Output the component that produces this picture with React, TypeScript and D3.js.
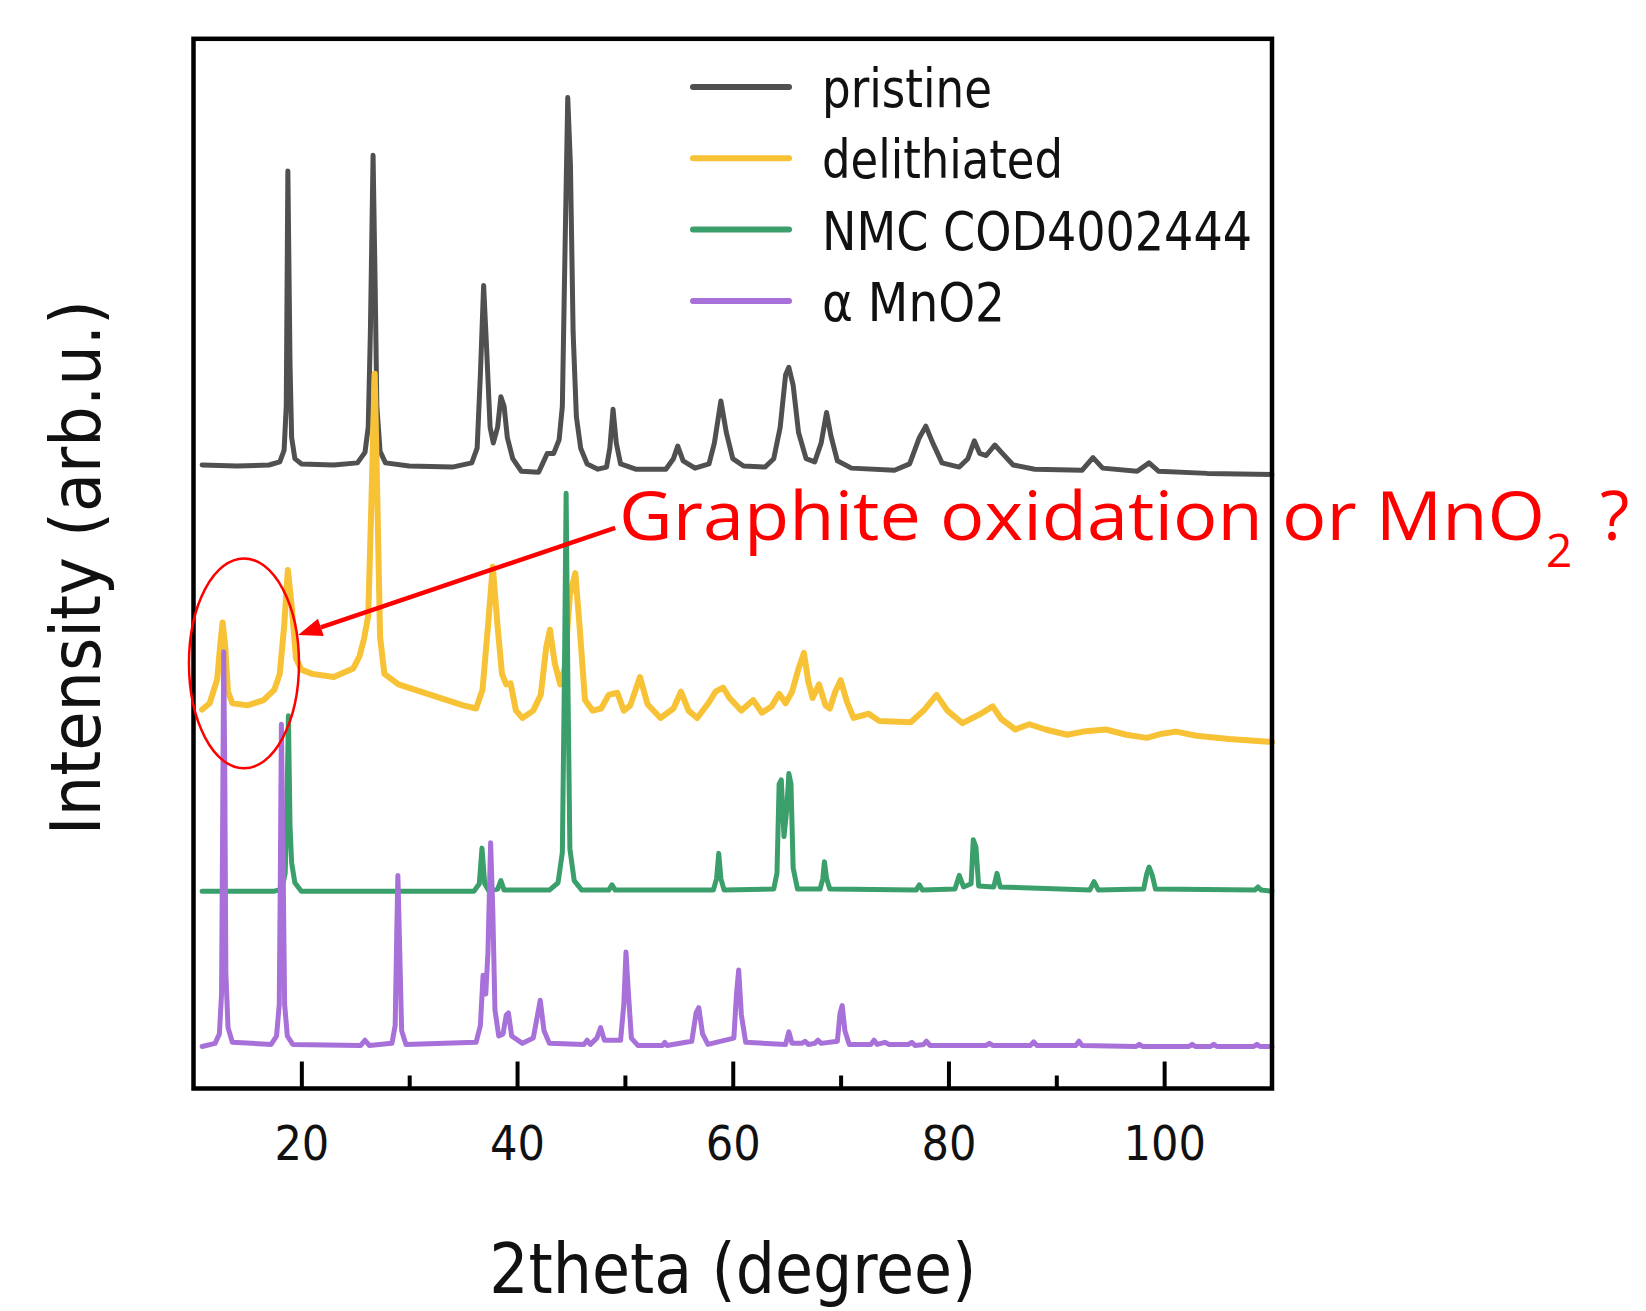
import React, { useEffect, useRef } from 'react'
import * as d3 from 'd3'

// [2theta, intensity] pairs, intensity in arb. units with the stacking offsets included
const pristine = [
  [10.8, 594], [14, 593], [17, 594], [18.0, 597], [18.4, 608], [18.6, 650], [18.75, 874], [18.95, 690], [19.1, 620],
  [19.4, 600], [20, 595], [23, 594], [25.2, 596], [25.9, 606], [26.2, 630], [26.4, 720], [26.65, 889], [26.85, 760],
  [27.0, 650], [27.3, 607], [27.8, 596], [30, 593], [34, 592], [35.8, 596], [36.3, 610], [36.6, 680], [36.9, 765],
  [37.2, 700], [37.5, 630], [37.8, 615], [38.2, 630], [38.5, 659], [38.8, 650], [39.1, 620], [39.6, 600], [40.4, 588],
  [42.0, 587], [42.4, 596], [42.8, 605], [43.4, 605], [43.9, 618], [44.2, 650], [44.45, 800], [44.7, 944], [44.95, 880],
  [45.2, 720], [45.5, 640], [45.9, 610], [46.5, 595], [47.5, 590], [48.3, 592], [48.6, 610], [48.9, 647], [49.2, 615],
  [49.6, 595], [51, 590], [53.8, 590], [54.5, 600], [54.9, 612], [55.4, 598], [56.5, 591], [57.8, 595], [58.3, 615],
  [58.9, 655], [59.4, 625], [60, 600], [61, 593], [63, 592], [63.8, 600], [64.4, 630], [64.9, 680], [65.2, 687],
  [65.6, 670], [66.1, 625], [66.8, 600], [67.6, 597], [68.2, 615], [68.7, 644], [69.1, 622], [69.7, 598], [71, 591],
  [75, 589], [76.4, 595], [77.3, 620], [77.9, 631], [78.5, 616], [79.4, 596], [81, 592], [81.8, 600], [82.4, 617],
  [82.9, 605], [83.5, 603], [84.3, 613], [85.0, 605], [86, 594], [88, 590], [92.4, 589], [93.4, 601], [94.3, 591],
  [97.5, 588], [98.6, 596], [99.5, 588], [104, 586], [110, 585],
]

const delithiated = [
  [10.8, 361], [11.5, 367], [12.2, 390], [12.5, 425], [12.7, 444], [12.95, 420], [13.2, 378], [13.6, 367], [15, 365],
  [16.5, 370], [17.5, 380], [18.0, 395], [18.4, 440], [18.75, 494], [19.1, 460], [19.5, 410], [20.0, 399], [21, 395],
  [23, 392], [24.8, 400], [25.4, 412], [25.8, 428], [26.2, 450], [26.5, 560], [26.8, 681], [27.05, 560], [27.3, 430],
  [27.7, 395], [29, 385], [32, 375], [35, 365], [36.2, 362], [36.8, 380], [37.3, 440], [37.75, 497], [38.2, 440],
  [38.6, 395], [39.0, 385], [39.4, 386], [39.9, 360], [40.5, 353], [41.5, 360], [42.2, 375], [42.7, 420], [43.05, 437],
  [43.5, 405], [44.0, 385], [44.4, 400], [44.9, 470], [45.4, 491], [45.8, 440], [46.3, 370], [47.0, 360], [47.8, 362],
  [48.5, 375], [49.3, 377], [49.9, 360], [50.5, 365], [51.4, 392], [52.1, 366], [53.3, 353], [54.5, 362], [55.2, 378],
  [55.9, 360], [56.7, 353], [57.8, 368], [58.4, 378], [59.1, 382], [59.7, 372], [60.8, 360], [61.9, 370], [62.7, 358],
  [63.6, 364], [64.3, 376], [64.9, 367], [65.5, 378], [66.1, 400], [66.6, 415], [67.0, 388], [67.4, 372], [68.0, 385],
  [68.6, 365], [69.0, 362], [69.5, 378], [70.0, 389], [70.6, 368], [71.2, 353], [72.6, 357], [73.6, 350], [76.5, 349],
  [77.7, 360], [78.9, 375], [79.9, 360], [81.3, 348], [83.0, 357], [84.1, 364], [84.9, 352], [86.2, 342], [87.5, 347],
  [89, 342], [91.0, 337], [92.5, 340], [94.6, 342], [96.5, 337], [98.4, 334], [99.8, 338], [101.1, 340], [103, 336],
  [106, 333], [110, 330],
]

const nmc = [
  [10.8, 188], [17.5, 188], [18.2, 190], [18.5, 205], [18.65, 260], [18.8, 355], [18.95, 250], [19.1, 215], [19.4, 196],
  [20, 188], [36.0, 188], [36.5, 195], [36.75, 229], [37.0, 195], [37.4, 188], [38.2, 190], [38.5, 198], [38.8, 189],
  [43.0, 189], [43.8, 196], [44.2, 225], [44.4, 400], [44.55, 567], [44.7, 400], [44.9, 228], [45.3, 198], [46.0, 189],
  [48.5, 189], [48.8, 194], [49.1, 189], [58.2, 189], [58.5, 200], [58.7, 224], [58.9, 200], [59.2, 189], [63.8, 190],
  [64.1, 205], [64.3, 290], [64.5, 294], [64.75, 240], [65.0, 265], [65.2, 300], [65.4, 290], [65.6, 210], [66.0, 190],
  [68.1, 190], [68.35, 200], [68.5, 216], [68.7, 200], [69.0, 190], [77.0, 189], [77.3, 194], [77.6, 189], [80.6, 190],
  [81.0, 203], [81.4, 192], [82.1, 195], [82.3, 237], [82.55, 230], [82.8, 193], [84.2, 192], [84.5, 205], [84.8, 192],
  [93.1, 189], [93.5, 197], [93.9, 189], [98.1, 190], [98.4, 205], [98.6, 211], [98.9, 203], [99.2, 190], [108.4, 189],
  [108.7, 192], [109.0, 189], [110, 188],
]

const mno2 = [
  [10.8, 40], [12.0, 43], [12.4, 52], [12.6, 90], [12.7, 250], [12.8, 416], [12.9, 300], [13.0, 110], [13.2, 58],
  [13.6, 44], [17.2, 42], [17.7, 50], [17.95, 80], [18.05, 200], [18.15, 347], [18.3, 220], [18.45, 80], [18.7, 50],
  [19.2, 42], [25.5, 41], [25.9, 46], [26.3, 41], [28.4, 43], [28.7, 60], [28.85, 150], [28.95, 203], [29.1, 140],
  [29.3, 55], [29.7, 42], [36.2, 44], [36.6, 60], [36.85, 108], [37.1, 90], [37.3, 130], [37.55, 234], [37.75, 170],
  [37.95, 75], [38.3, 50], [38.7, 52], [39.0, 70], [39.2, 72], [39.5, 50], [40.5, 43], [41.5, 48], [41.9, 70],
  [42.15, 84], [42.5, 55], [43, 43], [46.2, 42], [46.5, 46], [46.8, 42], [47.4, 48], [47.75, 58], [48.1, 46], [49.6, 46],
  [49.9, 80], [50.1, 130], [50.3, 95], [50.6, 48], [51.2, 41], [53.5, 41], [53.7, 44], [53.9, 41], [56.2, 45],
  [56.6, 72], [56.85, 77], [57.2, 52], [57.7, 42], [60.1, 48], [60.35, 90], [60.55, 113], [60.8, 70], [61.2, 44],
  [64.9, 42], [65.2, 54], [65.5, 43], [66.4, 43], [66.7, 45], [67.0, 42], [67.6, 43], [67.9, 46], [68.2, 43], [69.7, 45],
  [69.95, 72], [70.15, 79], [70.4, 55], [70.8, 42], [72.8, 42], [73.1, 46], [73.4, 42], [74.1, 44], [74.5, 42],
  [76.3, 42], [76.6, 44], [76.9, 41], [77.7, 42], [77.95, 45], [78.3, 41], [83.5, 41], [83.8, 43], [84.1, 41],
  [87.6, 41], [87.9, 44.5], [88.2, 41], [91.8, 41], [92.1, 45], [92.4, 41], [97.4, 40], [97.7, 42], [98.0, 40],
  [102.3, 40], [102.6, 42], [102.9, 40], [104.3, 40], [104.6, 42], [104.9, 40], [108.3, 40], [108.6, 42], [108.9, 40],
  [110, 40],
]

const seriesNames = ['pristine', 'delithiated', 'NMC COD4002444', 'α MnO2']
const seriesColors = ['#505050', '#f7c235', '#3a9f6b', '#a771d9']
const legendWidths = [170, 241, 430, 183]
const majorTicks = [20, 40, 60, 80, 100]
const minorTicks = [30, 50, 70, 90]

const axisFont = '"DejaVu Sans Condensed", "DejaVu Sans", sans-serif'
const noteFont = '"Open Sans", "Noto Sans", sans-serif'

export default function App() {
  const ref = useRef(null)

  useEffect(() => {
    const svg = d3.select(ref.current)
    svg.selectAll('*').remove()

    var x = d3.scaleLinear().domain([10, 110]).range([193.5, 1272])
    var y = d3.scaleLinear().domain([0, 1000]).range([1088.5, 38.8])

    svg.append('rect').attr('width', 1646).attr('height', 1311).attr('fill', '#fff')

    // curves, pristine drawn first and MnO2 last (on top)
    const line = d3.line().x(d => x(d[0])).y(d => y(d[1]))
    ;[pristine, delithiated, nmc, mno2].forEach((data, i) => {
      svg.append('path')
        .attr('d', line(data))
        .attr('fill', 'none')
        .attr('stroke', seriesColors[i])
        .attr('stroke-width', i == 1 ? 6 : 5)
        .attr('stroke-linejoin', 'round')
        .attr('stroke-linecap', 'round')
    })

    // frame
    svg.append('rect')
      .attr('x', x(10)).attr('y', y(1000))
      .attr('width', x(110) - x(10)).attr('height', y(0) - y(1000))
      .attr('fill', 'none').attr('stroke', '#000').attr('stroke-width', 4.5)

    // bottom axis, inward ticks
    const xAxis = d3.axisBottom(x).tickValues(majorTicks).tickSizeInner(-27).tickSizeOuter(0)
      .tickPadding(37).tickFormat(d3.format('d'))
    const gx = svg.append('g').attr('transform', `translate(0,${y(0)})`).call(xAxis)
    gx.select('.domain').remove()
    gx.selectAll('line').attr('stroke', '#000').attr('stroke-width', 4)
    gx.selectAll('text').attr('font-size', 48).attr('font-family', axisFont).attr('fill', '#111')

    const xMinor = d3.axisBottom(x).tickValues(minorTicks).tickSizeInner(-13).tickSizeOuter(0).tickFormat(() => '')
    const gm = svg.append('g').attr('transform', `translate(0,${y(0)})`).call(xMinor)
    gm.select('.domain').remove()
    gm.selectAll('line').attr('stroke', '#000').attr('stroke-width', 4)

    // axis titles
    svg.append('text')
      .attr('x', (x(10) + x(110)) / 2).attr('y', 1293)
      .attr('text-anchor', 'middle').attr('font-family', axisFont).attr('font-size', 70)
      .attr('textLength', 487).attr('lengthAdjust', 'spacingAndGlyphs').attr('fill', '#111')
      .text('2theta (degree)')

    svg.append('text')
      .attr('transform', `translate(100,${(y(0) + y(1000)) / 2 + 4}) rotate(-90)`)
      .attr('text-anchor', 'middle').attr('font-family', axisFont).attr('font-size', 69)
      .attr('textLength', 535).attr('lengthAdjust', 'spacingAndGlyphs').attr('fill', '#111')
      .text('Intensity (arb.u.)')

    // legend
    const legend = svg.append('g')
    seriesNames.forEach((name, i) => {
      const ly = 87 + i * 71.3
      legend.append('line')
        .attr('x1', 693).attr('x2', 789).attr('y1', ly).attr('y2', ly)
        .attr('stroke', seriesColors[i]).attr('stroke-width', 6).attr('stroke-linecap', 'round')
      legend.append('text')
        .attr('x', 822).attr('y', ly + 20)
        .attr('font-family', axisFont).attr('font-size', 54).attr('fill', '#111')
        .attr('textLength', legendWidths[i]).attr('lengthAdjust', 'spacingAndGlyphs')
        .text(name)
    })

    // red annotation: ellipse round the low-angle peaks and an arrow to the note
    svg.append('ellipse')
      .attr('cx', x(14.68)).attr('cy', y(405))
      .attr('rx', x(14.68) - x(9.58)).attr('ry', y(305) - y(405))
      .attr('fill', 'none').attr('stroke', '#ff0000').attr('stroke-width', 2.5)

    const tail = [x(49.1), y(534)]
    const tip = [x(19.7), y(432)]
    const dx = tip[0] - tail[0], dy = tip[1] - tail[1]
    const len = Math.hypot(dx, dy)
    const ux = dx / len, uy = dy / len
    const headL = 24, headW = 9
    const base = [tip[0] - ux * headL, tip[1] - uy * headL]
    svg.append('line')
      .attr('x1', tail[0]).attr('y1', tail[1]).attr('x2', base[0]).attr('y2', base[1])
      .attr('stroke', '#ff0000').attr('stroke-width', 4.5)
    svg.append('polygon')
      .attr('points', [tip, [base[0] - uy * headW, base[1] + ux * headW], [base[0] + uy * headW, base[1] - ux * headW]]
        .map(p => p.join(',')).join(' '))
      .attr('fill', '#ff0000')

    svg.append('text')
      .attr('x', 619).attr('y', 540)
      .attr('font-family', noteFont).attr('font-size', 68).attr('fill', '#ff0000')
      .attr('textLength', 926).attr('lengthAdjust', 'spacingAndGlyphs')
      .text('Graphite oxidation or MnO')
    svg.append('text')
      .attr('x', 1546).attr('y', 567)
      .attr('font-family', noteFont).attr('font-size', 46).attr('fill', '#ff0000')
      .text('2')
    svg.append('text')
      .attr('x', 1600).attr('y', 540)
      .attr('font-family', noteFont).attr('font-size', 68).attr('fill', '#ff0000')
      .text('?')
  }, [])

  return <svg ref={ref} width={1646} height={1311} style={{ position: 'absolute', left: 0, top: 0 }} />
}
